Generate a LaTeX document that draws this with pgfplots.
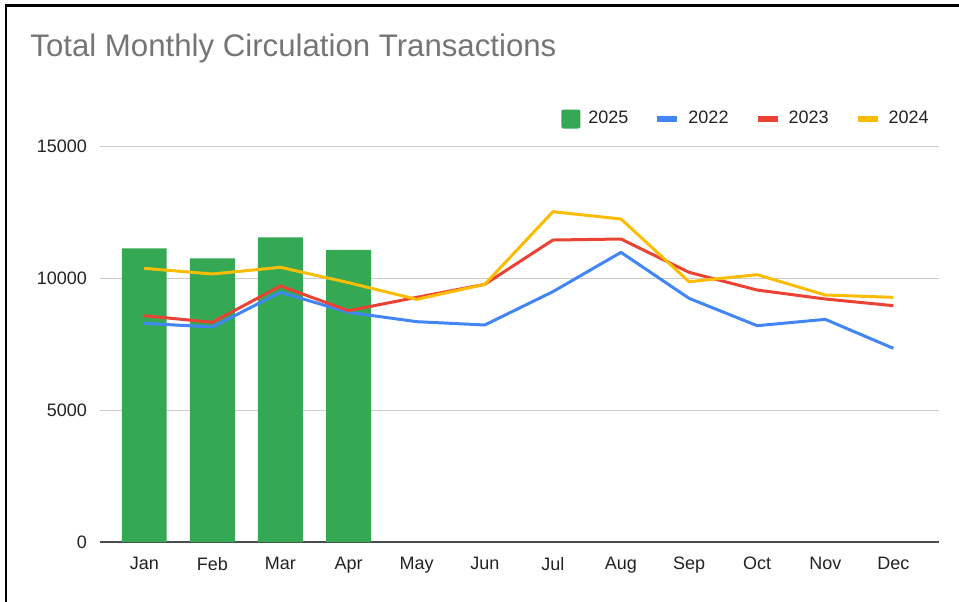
\documentclass[border=0pt]{standalone}
\usepackage{fontspec}
\setmainfont{Liberation Sans}
\usepackage{pgfplots}
\pgfplotsset{compat=1.18}
\definecolor{gGreen}{HTML}{34A853}
\definecolor{gBlue}{HTML}{4285F4}
\definecolor{gRed}{HTML}{EA4335}
\definecolor{gYellow}{HTML}{FBBC04}
\definecolor{titleGray}{HTML}{757575}
\definecolor{txt}{HTML}{222222}
\begin{document}
\begin{tikzpicture}
\useasboundingbox (0,0) rectangle (479.5pt,-300.5pt);
\draw[line width=1.25pt] (3pt,-301pt) -- (3pt,-2.75pt) -- (480pt,-2.75pt);
\node[anchor=base west, text=titleGray, font=\fontsize{15.6pt}{18pt}\selectfont, inner sep=0pt] at (15pt,-28pt) {Total Monthly Circulation Transactions};
\begin{axis}[
  at={(50pt,-271pt)}, anchor=south west,
  width=419.5pt, height=198pt, scale only axis,
  xmin=-0.65, xmax=11.67,
  ymin=0, ymax=15000,
  xtick={0,...,11},
  xticklabels={Jan,Feb,Mar,Apr,May,Jun,Jul,Aug,Sep,Oct,Nov,Dec},
  ytick={0,5000,10000,15000},
  scaled y ticks=false,
  /pgf/number format/assume math mode=true,
  /pgf/number format/set thousands separator={},
  tick label style={font=\fontsize{9pt}{11pt}\selectfont, text=txt},
  xticklabel style={yshift=-4pt},
  yticklabel style={xshift=-3pt},
  major tick length=0pt,
  axis x line=bottom, axis y line=left,
  x axis line style={draw=black!70, line width=1pt, -},
  y axis line style={draw=none},
  ymajorgrids, grid style={draw=black!20, line width=0.5pt},
  legend columns=4,
  legend style={at={(1,1)}, anchor=east, xshift=-5pt, yshift=13.5pt,
    draw=none, fill=none, inner sep=0pt,
    font=\fontsize{9pt}{11pt}\selectfont, text=txt,
    nodes={inner sep=0pt},
    /tikz/every odd column/.append style={column sep=4pt},
    /tikz/every even column/.append style={column sep=13pt}},
]
\addplot[ybar, bar width=0.66, fill=gGreen, draw=none,
  legend image code/.code={\fill[gGreen, rounded corners=1pt] (0pt,-4.75pt) rectangle (9.5pt,4.75pt);}]
  coordinates {(0,11125) (1,10746) (2,11542) (3,11061)};
\addlegendentry{2025}
\addplot[gBlue, line width=1.5pt, line join=round, no marks,
  legend image code/.code={\draw[gBlue, line width=3pt] (0pt,0pt) -- (10pt,0pt);}]
  coordinates {(0,8283) (1,8144) (2,9457) (3,8699) (4,8346) (5,8220) (6,9482) (7,10972) (8,9230) (9,8194) (10,8434) (11,7336)};
\addlegendentry{2022}
\addplot[gRed, line width=1.5pt, line join=round, no marks,
  legend image code/.code={\draw[gRed, line width=3pt] (0pt,0pt) -- (10pt,0pt);}]
  coordinates {(0,8573) (1,8321) (2,9697) (3,8763) (4,9268) (5,9760) (6,11439) (7,11477) (8,10215) (9,9545) (10,9205) (11,8952)};
\addlegendentry{2023}
\addplot[gYellow, line width=1.5pt, line join=round, no marks,
  legend image code/.code={\draw[gYellow, line width=3pt] (0pt,0pt) -- (10pt,0pt);}]
  coordinates {(0,10367) (1,10152) (2,10405) (3,9823) (4,9192) (5,9760) (6,12512) (7,12235) (8,9861) (9,10126) (10,9356) (11,9268)};
\addlegendentry{2024}
\end{axis}
\end{tikzpicture}
\end{document}
